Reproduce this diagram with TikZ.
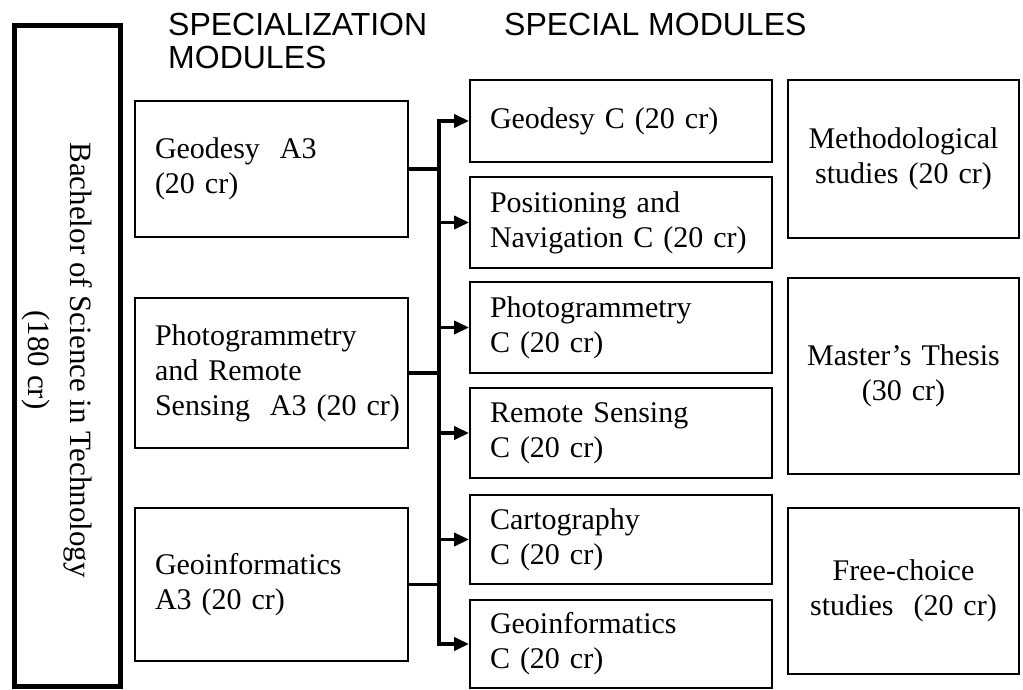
\documentclass[tikz,border=0pt]{standalone}
\usepackage{fontspec}
\setmainfont{Liberation Serif}
\newfontfamily\headfont{Liberation Sans}
\usetikzlibrary{arrows.meta}
\begin{document}
\begin{tikzpicture}[x=1pt,y=-1pt,
    modbox/.style={draw,line width=1.8pt,rectangle,align=left,inner xsep=20pt,inner ysep=0pt,font=\fontsize{30}{35}\selectfont},
    leftbox/.style={modbox,text width=233pt,minimum width=273pt},
    midbox/.style={modbox,text width=262pt,minimum width=302pt},
    rightbox/.style={modbox,align=center,inner xsep=5pt,text width=221pt,minimum width=231pt},
    head/.style={align=left,anchor=north west,inner sep=0pt,font=\headfont\fontsize{32}{33}\selectfont},
    conn/.style={line width=3.5pt,line cap=rect},
    tip/.style={-{Triangle[length=15pt,width=13pt]},line cap=butt}]
    \useasboundingbox (0,0) rectangle (1023,690);
    \node[draw,line width=5pt,minimum width=106pt,minimum height=660pt,inner sep=0pt] (bsc) at (67,356) {};
    \node[rotate=-90,align=center,font=\fontsize{31}{42}\selectfont] (bsctext) at (57,360) {Bachelor of Science in Technology\\(180 cr)};
    \node[head] (spechead) at (168,13) {SPECIALIZATION\\MODULES};
    \node[head] (modhead) at (504,13) {SPECIAL MODULES};
    \node[leftbox,minimum height=136pt] (geoA) at (271.5,169) {Geodesy\ \ A3\\(20 cr)};
    \node[leftbox,minimum height=150pt] (photA) at (271.5,373) {Photogrammetry\\and Remote\\Sensing~\ A3~(20~cr)};
    \node[leftbox,minimum height=153pt] (infA) at (271.5,584.5) {Geoinformatics\\A3 (20 cr)};
    \node[midbox,minimum height=82pt] (geoC) at (621,121) {Geodesy C (20 cr)};
    \node[midbox,minimum height=91pt] (posC) at (621,222.5) {Positioning and\\Navigation~C~(20~cr)};
    \node[midbox,minimum height=91pt] (photC) at (621,327.5) {Photogrammetry\\C (20 cr)};
    \node[midbox,minimum height=90pt] (remC) at (621,433) {Remote Sensing\\C (20 cr)};
    \node[midbox,minimum height=89pt] (cartC) at (621,539.5) {Cartography\\C (20 cr)};
    \node[midbox,minimum height=88pt] (infC) at (621,644) {Geoinformatics\\C (20 cr)};
    \node[rightbox,minimum height=158pt] (meth) at (903.5,159) {Methodological\\studies (20 cr)};
    \node[rightbox,minimum height=196pt] (thesis) at (903.5,376) {Master's Thesis\\(30 cr)};
    \node[rightbox,minimum height=166pt] (free) at (903.5,591) {Free-choice\\studies\ \ (20 cr)};
    \coordinate (bus) at (439,0);
    \draw[conn] (bus |- geoC.west) -- (bus |- infC.west);
    \foreach \m in {geoA,photA,infA}
        \draw[conn] (\m.east) -- (\m.east -| bus);
    \foreach \m in {geoC,posC,photC,remC,cartC,infC}
        \draw[conn,tip] (bus |- \m.west) -- (\m.west);
\end{tikzpicture}
\end{document}
